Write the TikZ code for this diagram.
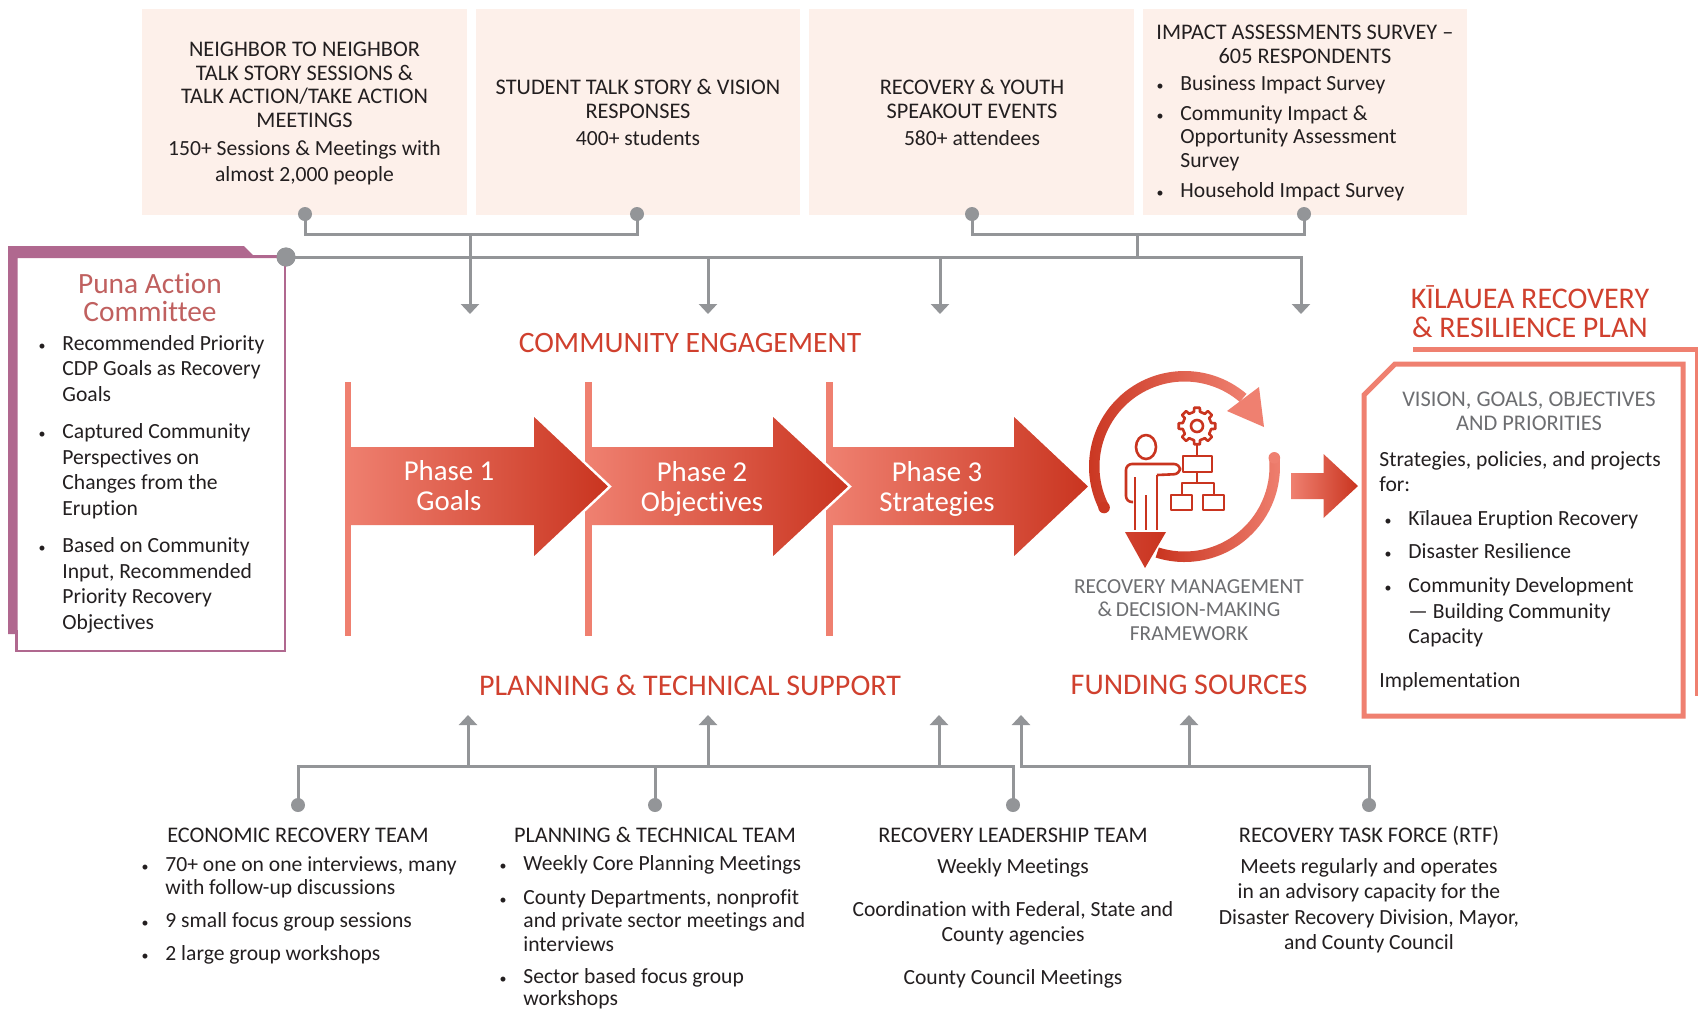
\documentclass[tikz,border=0pt]{standalone}
\usepackage{fontspec}
\setmainfont{Carlito}[Ligatures=CommonOff]
\usetikzlibrary{arrows.meta}
\definecolor{peach}{HTML}{FDF0EA}
\definecolor{conn}{HTML}{939598}
\definecolor{salmon}{HTML}{EF8070}
\definecolor{brick}{HTML}{C9341F}
\definecolor{redhead}{HTML}{D0402E}
\definecolor{plum}{HTML}{B0688F}
\definecolor{rose}{HTML}{C0605F}
\definecolor{ink}{HTML}{231F20}
\definecolor{greytext}{HTML}{6D6E71}
\newcommand{\bu}{\makebox[10.5pt][l]{\hspace*{-1.4pt}\fontsize{7}{7}\selectfont •}}
\newcommand{\ind}{\hspace*{10.5pt}}
\tikzset{
 topbox/.style={fill=peach,draw=none},
 dotn/.style={circle,fill=conn,inner sep=0,minimum size=7pt},
 bigdot/.style={circle,fill=conn,inner sep=0,minimum size=9.5pt},
 link/.style={draw=conn,line width=1.5pt},
 linka/.style={link,-{Triangle[width=9pt,length=5pt]}},
 ctext/.style={font=\fontsize{11.15}{11.75}\selectfont,text=ink,inner sep=0,align=center,anchor=north},
 cbody/.style={ctext,font=\fontsize{10.8}{12.75}\selectfont},
 ltext/.style={font=\fontsize{10.8}{12.75}\selectfont,text=ink,inner sep=0,align=left,anchor=north west},
 ltight/.style={ltext,font=\fontsize{10.8}{11.6}\selectfont},
 redh/.style={font=\fontsize{15}{14.5}\selectfont,text=redhead,inner sep=0,align=center},
 greyh/.style={font=\fontsize{11.2}{12}\selectfont,text=greytext,inner sep=0,align=center},
 phasetxt/.style={font=\fontsize{14.4}{15}\selectfont,text=white,inner sep=0,align=center},
 grad/.style={left color=salmon,right color=brick},
 gradr/.style={left color=brick,right color=salmon},
 icon/.style={draw=brick,line width=1.3pt,line join=round},
 phline/.style={fill=salmon,draw=none},
 halo/.style={draw=white,line width=1.2pt},
 plan/.style={draw=salmon,line width=2.5pt,fill=none},
}
\begin{document}
\begin{tikzpicture}[x=.5pt,y=-.5pt]
\useasboundingbox[fill=white] (0,0) rectangle (1698,1009);
% top boxes
\fill[topbox] (142,9) rectangle (467,215);
\fill[topbox] (476,9) rectangle (800,215);
\fill[topbox] (809,9) rectangle (1134,215);
\fill[topbox] (1143,9) rectangle (1467,215);
\node[ctext] (tb1) at (304.5,42) {NEIGHBOR TO NEIGHBOR\\TALK STORY SESSIONS \&\\TALK ACTION/TAKE ACTION\\MEETINGS};
\node[cbody] (tb1b) at (304.5,140.5) {150+ Sessions \& Meetings with\\almost 2,000 people};
\node[ctext] (tb2) at (638,79) {STUDENT TALK STORY \& VISION\\RESPONSES};
\node[cbody] (tb2b) at (638,130) {400+ students};
\node[ctext] (tb3) at (972,79) {RECOVERY \& YOUTH\\SPEAKOUT EVENTS};
\node[cbody] (tb3b) at (972,130) {580+ attendees};
\node[ctext] (tb4) at (1305,25) {IMPACT ASSESSMENTS SURVEY –\\605 RESPONDENTS};
\node[ltext,font=\fontsize{10.8}{11.75}\selectfont] (tb4b) at (1159,75) {\bu Business Impact Survey\\[3.25pt]
\bu Community Impact \&\\ \ind Opportunity Assessment\\ \ind Survey\\[3.6pt]
\bu Household Impact Survey};
% top connectors
\node[dotn] (t1) at (305,214) {};
\node[dotn] (t2) at (637,214) {};
\node[dotn] (t3) at (972,214) {};
\node[dotn] (t4) at (1304,214) {};
\node[bigdot] (p) at (286,257) {};
\coordinate (h1) at (470,234);
\coordinate (h2) at (1137,234);
\coordinate (m2) at (708,257);
\coordinate (m3) at (940,257);
\coordinate (m5) at (1137,257);
\coordinate (a1) at (470,314);
\coordinate (a2) at (708,314);
\coordinate (a3) at (940,314);
\coordinate (a4) at (1301,314);
% puna box
\fill[plum] (8,246) -- (244,246) -- (254,256) -- (285,256) -- (285,258) -- (17.5,258) -- (17.5,634) -- (8,634) -- cycle;
\draw[plum,line width=1.25pt] (17,256) -- (285,256) -- (285,651) -- (16.5,651) -- (16.5,630);
\draw[link] (t1.center) -- (305,234) -| (t2.center);
\draw[link] (t3.center) -- (972,234) -| (t4.center);
\draw[link] (h2) -- (m5);
\draw[linka] (h1) -- (a1);
\draw[linka] (m2) -- (a2);
\draw[linka] (m3) -- (a3);
\draw[linka] (p.center) -| (a4);
\node[bigdot] at (p) {};
\node[redh,font=\fontsize{14.7}{14}\selectfont,text=rose,anchor=center] (pt) at (150,297) {Puna Action\\Committee};
\node[ltext] (pl) at (41,335) {\bu Recommended Priority\\ \ind CDP Goals as Recovery\\ \ind Goals\\[6pt]
\bu Captured Community\\ \ind Perspectives on\\ \ind Changes from the\\ \ind Eruption\\[6pt]
\bu Based on Community\\ \ind Input, Recommended\\ \ind Priority Recovery\\ \ind Objectives};
% headings
\node[redh,font=\fontsize{14.8}{14.5}\selectfont] (ce) at (690,343) {COMMUNITY ENGAGEMENT};
\node[redh] (pts) at (690,685) {PLANNING \& TECHNICAL SUPPORT};
\node[redh] (fs) at (1189,685) {FUNDING SOURCES};
% phase lines
\fill[phline] (344.5,382) rectangle (351,636);
\fill[phline] (585,382) rectangle (591.5,636);
\fill[phline] (826,382) rectangle (832.5,636);
% phase arrows
\shade[grad] (829,447) -- (1014,447) -- (1014,415) -- (1090,486.5) -- (1014,558) -- (1014,525) -- (829,525) -- cycle;
\draw[halo] (1014,415) -- (1090,486.5) -- (1014,558);
\shade[grad] (588,447) -- (773,447) -- (773,415) -- (850,486.5) -- (773,558) -- (773,525) -- (588,525) -- cycle;
\draw[halo] (773,415) -- (850,486.5) -- (773,558);
\shade[grad] (345,447) -- (534,447) -- (534,415) -- (610,486.5) -- (534,558) -- (534,525) -- (345,525) -- cycle;
\draw[halo] (534,415) -- (610,486.5) -- (534,558);
\node[phasetxt] (ph1) at (449,486) {Phase 1\\Goals};
\node[phasetxt] (ph2) at (702,488.5) {Phase 2\\Objectives};
\node[phasetxt] (ph3) at (937,488.5) {Phase 3\\Strategies};
% recovery icon
\begin{scope}[shift={(1184.5,466.5)},yscale=-1]
 \shade[gradr] (207:85) arc[start angle=207,end angle=49.5,radius=85] -- (49.5:95.5) arc[start angle=49.5,end angle=207,radius=95.5] -- cycle;
 \fill[brick!95!salmon] (207:90.25) circle[radius=5.8];
 \shade[gradr] (5.5:85) arc[start angle=5.5,end angle=-107.6,radius=85] -- (-107.6:95.5) arc[start angle=-107.6,end angle=5.5,radius=95.5] -- cycle;
 \fill[salmon] (5.5:90.25) circle[radius=5.8];
\end{scope}
\fill[salmon] (1259,387) -- (1227,411) -- (1264,427) -- cycle;
\shade[left color=redhead,right color=brick] (1125,532) -- (1166,532) -- (1145,568) -- cycle;
% person
\draw[icon] (1146,447) ellipse[x radius=10,y radius=12];
\draw[icon,rounded corners=3pt] (1133,502) -- (1126,502) -- (1126,464) -- (1180,464) -- (1180,474) -- (1157,475);
\draw[icon] (1135,477) -- (1135,530);
\draw[icon] (1157,475) -- (1157,530);
\draw[icon] (1146,495) -- (1146,530);
% gear
\draw[icon] (1197,426) circle[radius=6];
\begin{scope}[shift={(1197,426)}]
 \draw[icon] (-12:14.5) \foreach \a in {0,45,...,315} { -- (\a-12:14.5) -- (\a-9:18.5) -- (\a+9:18.5) -- (\a+12:14.5) } -- cycle;
\end{scope}
\draw[icon] (1197,445) -- (1197,456);
\draw[icon] (1183,456) rectangle (1212,472);
\draw[icon] (1197,472) -- (1197,483);
\draw[icon] (1182,495) -- (1182,483) -- (1214,483) -- (1214,495);
\draw[icon] (1171,495) rectangle (1192,510);
\draw[icon] (1203,495) rectangle (1224,510);
\node[greyh,font=\fontsize{10.7}{11.75}\selectfont,anchor=center] (rm) at (1189,610) {RECOVERY MANAGEMENT\\\&\,DECISION-MAKING\\FRAMEWORK};
% big arrow
\shade[grad] (1291,473) -- (1323.5,473) -- (1323.5,454) -- (1358,486) -- (1323.5,518) -- (1323.5,499) -- (1291,499) -- cycle;
% plan
\node[redh,anchor=center] (kp) at (1530,311.5) {KĪLAUEA RECOVERY\\\& RESILIENCE PLAN};
\draw[plan] (1413,349) -- (1697,349) -- (1697,696);
\draw[plan] (1395,364) -- (1683,364) -- (1683,716) -- (1364,716) -- (1364,395) -- cycle;
\node[greyh,anchor=center] (vg) at (1529,411) {VISION, GOALS, OBJECTIVES\\AND PRIORITIES};
\node[ltext] (st) at (1379,451) {Strategies, policies, and projects\\for:};
\node[ltext] (kl) at (1387,510) {\bu Kīlauea Eruption Recovery\\[3.75pt]
\bu Disaster Resilience\\[4.5pt]
\bu Community Development\\ \ind — Building Community\\ \ind Capacity};
\node[ltext] (im) at (1379,672) {Implementation};
% bottom connectors
\node[dotn] (b1) at (298,805) {};
\node[dotn] (b2) at (655,805) {};
\node[dotn] (b3) at (1013,805) {};
\node[dotn] (b4) at (1369,805) {};
\coordinate (u1) at (468,715);
\coordinate (u2) at (708,715);
\coordinate (u3) at (939,715);
\coordinate (u4) at (1021,715);
\coordinate (u5) at (1189,715);
\coordinate (v1) at (468,766);
\coordinate (v2) at (708,766);
\coordinate (v3) at (939,766);
\coordinate (v5) at (1189,766);
\draw[link] (b1.center) -- (298,766) -| (b3.center);
\draw[link] (b2.center) -- (655,766);
\draw[linka] (v1) -- (u1);
\draw[linka] (v2) -- (u2);
\draw[linka] (v3) -- (u3);
\draw[linka] (b4.center) -- (1369,766) -| (u4);
\draw[linka] (v5) -- (u5);
% bottom text
\node[ctext] (e0) at (298,828) {ECONOMIC RECOVERY TEAM};
\node[ltight] (e1) at (144,856) {\bu 70+ one on one interviews, many\\ \ind with follow-up discussions\\[5pt]
\bu 9 small focus group sessions\\[5pt]
\bu 2 large group workshops};
\node[ctext] (p0) at (655,827) {PLANNING \& TECHNICAL TEAM};
\node[ltight] (p1) at (502,855) {\bu Weekly Core Planning Meetings\\[5.5pt]
\bu County Departments, nonprofit\\ \ind and private sector meetings and\\ \ind interviews\\[4.5pt]
\bu Sector based focus group\\[-.6pt] \ind workshops};
\node[ctext] (l0) at (1013,828) {RECOVERY LEADERSHIP TEAM};
\node[cbody] (l1) at (1013,858) {Weekly Meetings};
\node[cbody] (l2) at (1013,901) {Coordination with Federal, State and\\County agencies};
\node[cbody] (l3) at (1013,969) {County Council Meetings};
\node[ctext] (r0) at (1369,826) {RECOVERY TASK FORCE (RTF)};
\node[cbody] (r1) at (1369,858) {Meets regularly and operates\\in an advisory capacity for the\\Disaster Recovery Division, Mayor,\\and County Council};
\end{tikzpicture}
\end{document}
